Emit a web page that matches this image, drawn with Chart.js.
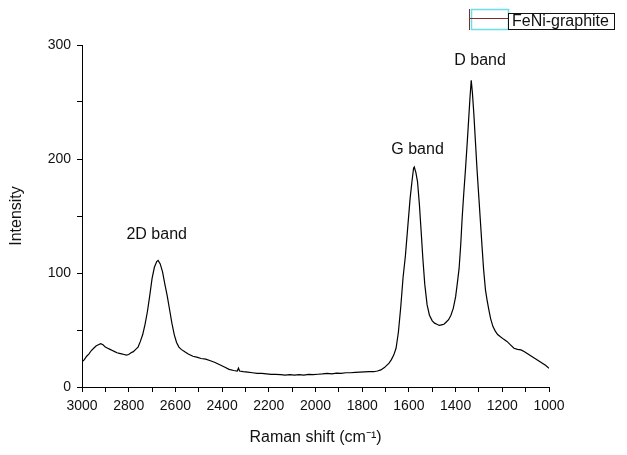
<!DOCTYPE html>
<html>
<head>
<meta charset="utf-8">
<script src="https://cdn.jsdelivr.net/npm/chart.js@4/dist/chart.umd.min.js"></script>
<style>
  html, body { margin: 0; padding: 0; background: #fff; }
  #wrap { width: 627px; height: 455px; position: relative; }
</style>
</head>
<body>
<div id="wrap"><canvas id="c" width="627" height="455"></canvas></div>
<script>
// Raman shift (cm-1)
const ramanShift = [
  3000,2990,2980,2970,2960,2950,2940,2930,2920,2910,2900,2890,2880,2870,2860,2850,2840,2830,2820,2810,
  2800,2790,2780,2770,2760,2750,2740,2730,2720,2710,2700,2690,2680,2674,2665,2655,2645,2635,2625,2615,
  2605,2595,2585,2575,2560,2545,2525,2505,2490,2470,2450,2430,2410,2390,2370,2350,2335,2330,2325,2310,
  2290,2270,2250,2230,2210,2190,2170,2150,2130,2110,2090,2070,2050,2030,2010,1990,1970,1950,1930,1910,
  1890,1870,1850,1830,1810,1790,1770,1750,1735,1720,1705,1695,1685,1675,1665,1655,1645,1635,1625,1615,
  1605,1595,1587,1580,1577,1570,1563,1555,1548,1540,1532,1522,1512,1500,1490,1480,1470,1460,1450,1440,
  1430,1420,1410,1400,1392,1385,1378,1372,1365,1358,1350,1344,1338,1333,1328,1322,1315,1308,1300,1294,
  1287,1280,1272,1265,1258,1250,1240,1230,1220,1208,1195,1180,1165,1150,1135,1120,1105,1090,1075,1060,
  1045,1030,1015,1000
];
// Intensity
const intensity = [
  22,24,27,29,32,34,36,37,38,37,35,34,33,32,31,30,29.5,29,28.5,28,
  28.5,30,31,33,35,40,46,55,66,80,95,105,110,111,108,101,90,80,68,56,
  46,39,35,33,31,29,27,26,25,24.5,23,21.5,19.5,17.5,15.5,14.5,14,16.5,14,13.5,
  13,12.5,12,12,11.5,11,11,10.8,10.5,10.8,10.5,10.8,10.5,11,10.8,11.2,11.5,12,11.6,12.2,
  12,12.5,12.5,12.8,13,13.2,13.4,13.4,14,15,17,19,21,24,28,34,48,70,96,115,
  140,165,180,192,193,188,180,160,138,112,90,72,63,58,56,55,54,54.5,55,57,
  59,63,69,79,92,104,125,148,170,190,215,235,255,269,258,240,215,190,165,146,
  124,103,85,76,68,60,53,49,46,44,42,40,37,34,33,32.5,31,29,27,25,
  23,21,19,16.5
];
const seriesName = 'FeNi-graphite';
const xTickValues = [3000,2800,2600,2400,2200,2000,1800,1600,1400,1200,1000];
const yTickValues = [0,100,200,300];
const bandNames = ['2D band','G band','D band'];
const bandShift = [2680,1563,1295];
const bandLevel = [134,208,286];

const FONT = "Arial, 'Liberation Sans', sans-serif";

const points = ramanShift.map((x, i) => ({x: x, y: intensity[i]}));

const overlayPlugin = {
  id: 'overlay',
  afterDatasetsDraw(chart) {
    const ctx = chart.ctx;
    const xs = chart.scales.x, ys = chart.scales.y;
    ctx.save();
    ctx.fillStyle = '#111';
    ctx.font = '16px ' + FONT;
    ctx.textAlign = 'center';
    ctx.textBaseline = 'middle';
    bandNames.forEach((t, i) => {
      ctx.fillText(t, xs.getPixelForValue(bandShift[i]), ys.getPixelForValue(bandLevel[i]));
    });
    ctx.restore();
  },
  afterDraw(chart) {
    const ctx = chart.ctx;
    ctx.save();
    // legend symbol area
    ctx.strokeStyle = '#6fdbe6';
    ctx.lineWidth = 1.5;
    ctx.strokeRect(471.5, 9.5, 37, 20);
    ctx.lineWidth = 1;
    ctx.strokeStyle = '#7a2e2e';
    ctx.beginPath();
    ctx.moveTo(469.5, 9); ctx.lineTo(469.5, 30);
    ctx.stroke();
    ctx.beginPath();
    ctx.moveTo(469, 18.5); ctx.lineTo(508, 18.5);
    ctx.stroke();
    // legend box
    ctx.fillStyle = '#fff';
    ctx.fillRect(508, 13, 107, 17);
    ctx.strokeStyle = '#111';
    ctx.strokeRect(508.5, 13.5, 106, 16);
    ctx.fillStyle = '#111';
    ctx.font = '16px ' + FONT;
    ctx.textAlign = 'left';
    ctx.textBaseline = 'middle';
    ctx.fillText(seriesName, 512, 22);
    ctx.restore();
  }
};

new Chart(document.getElementById('c'), {
  type: 'line',
  data: {
    datasets: [{
      label: seriesName,
      data: points,
      borderColor: '#000',
      borderWidth: 1.2,
      pointRadius: 0,
      tension: 0,
      fill: false
    }]
  },
  options: {
    responsive: false,
    animation: false,
    parsing: true,
    layout: { padding: { top: 45, right: 78, left: 0, bottom: 0 } },
    plugins: { legend: { display: false }, tooltip: { enabled: false } },
    scales: {
      x: {
        type: 'linear',
        reverse: true,
        min: 1000, max: 3000,
        afterFit(s) { s.height = 68; },
        border: { display: true, color: '#000', width: 1 },
        grid: { display: true, drawOnChartArea: false, drawTicks: true, tickLength: 5, color: '#000' },
        ticks: {
          stepSize: 100,
          autoSkip: false,
          maxRotation: 0,
          padding: 6,
          color: '#111',
          font: { family: FONT, size: 14 },
          callback: v => xTickValues.includes(v) ? String(v) : ''
        },
        title: {
          display: true,
          text: 'Raman shift (cm⁻¹)',
          color: '#111',
          font: { family: FONT, size: 16 },
          padding: { top: 0, bottom: 8 }
        }
      },
      y: {
        min: 0, max: 300,
        afterFit(s) { s.width = 82; },
        border: { display: true, color: '#000', width: 1 },
        grid: { display: true, drawOnChartArea: false, drawTicks: true, tickLength: 5, color: '#000' },
        ticks: {
          stepSize: 50,
          autoSkip: false,
          padding: 6,
          color: '#111',
          font: { family: FONT, size: 14 },
          callback: v => yTickValues.includes(v) ? String(v) : ''
        },
        title: {
          display: true,
          text: 'Intensity',
          color: '#111',
          font: { family: FONT, size: 16 },
          padding: { top: 7, bottom: 0 }
        }
      }
    }
  },
  plugins: [overlayPlugin]
});
</script>
</body>
</html>
